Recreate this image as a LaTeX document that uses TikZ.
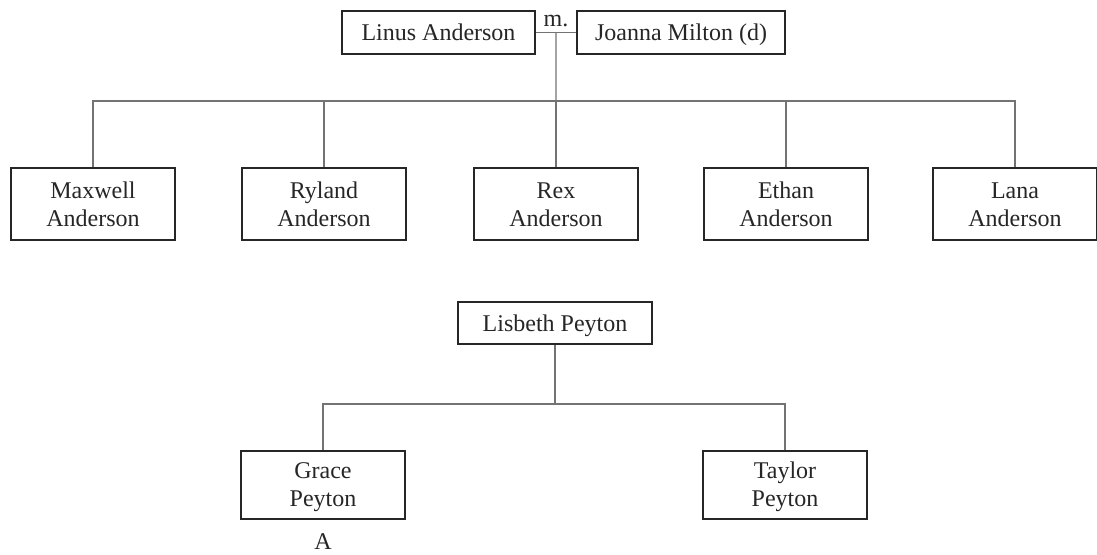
\documentclass[tikz,border=0pt]{standalone}
\usepackage{fontspec}
\setmainfont{Liberation Serif}
\usetikzlibrary{calc}
\newcommand\topstr{\rule{0pt}{20pt}}
\newcommand\botstr{\rule[-4pt]{0pt}{4pt}}
\tikzset{
  person/.style={draw=black!85, line width=1.6pt, fill=white, align=center,
    inner sep=0pt, font=\fontsize{24}{28}\selectfont, text=black!85},
  single/.style={person, text height=17pt, text depth=1pt},
  conn/.style={draw=black!55, line width=1.3pt},
  lbl/.style={inner sep=0pt, font=\fontsize{24}{28}\selectfont, text=black!85}
}
\begin{document}
\begin{tikzpicture}[x=1pt,y=-1pt]
\useasboundingbox (0,0) rectangle (1097,554);
% top couple
\node[single, minimum width=193pt, minimum height=43pt] (linus) at (438.5,32.5) {Linus Anderson};
\node[single, minimum width=208pt, minimum height=43pt] (joanna) at (681,32.5) {Joanna Milton (d)};
\node[lbl] (m) at (556,21) {m.};
\coordinate (mid) at ($(linus.east)!0.5!(joanna.west)$);
\coordinate (bus) at (556,101);
% children
\node[person, minimum width=164pt, minimum height=72pt] (maxwell) at (93,204) {\topstr Maxwell\\Anderson\botstr};
\node[person, minimum width=164pt, minimum height=72pt] (ryland) at (324,204) {\topstr Ryland\\Anderson\botstr};
\node[person, minimum width=164pt, minimum height=72pt] (rex) at (556,204) {\topstr Rex\\Anderson\botstr};
\node[person, minimum width=164pt, minimum height=72pt] (ethan) at (786,204) {\topstr Ethan\\Anderson\botstr};
\node[person, minimum width=164pt, minimum height=72pt] (lana) at (1015,204) {\topstr Lana\\Anderson\botstr};
% connectors top family
\draw[conn] (linus.east) -- (joanna.west);
\draw[conn] (mid) -- (bus);
\draw[conn] (bus) -| (maxwell.north);
\draw[conn] (bus) -| (lana.north);
\draw[conn] (ryland.north) -- (ryland.north |- bus);
\draw[conn] (rex.north) -- (rex.north |- bus);
\draw[conn] (ethan.north) -- (ethan.north |- bus);
% second family
\node[single, minimum width=194pt, minimum height=42pt] (lisbeth) at (555,323) {Lisbeth Peyton};
\coordinate (bus2) at (555,404);
\node[person, minimum width=164pt, minimum height=68pt] (grace) at (323,485) {\topstr Grace\\Peyton\botstr};
\node[person, minimum width=164pt, minimum height=68pt] (taylor) at (785,485) {\topstr Taylor\\Peyton\botstr};
\node[lbl] (a) at (323,542) {A};
\draw[conn] (lisbeth.south) -- (bus2);
\draw[conn] (bus2) -| (grace.north);
\draw[conn] (bus2) -| (taylor.north);
\end{tikzpicture}
\end{document}
